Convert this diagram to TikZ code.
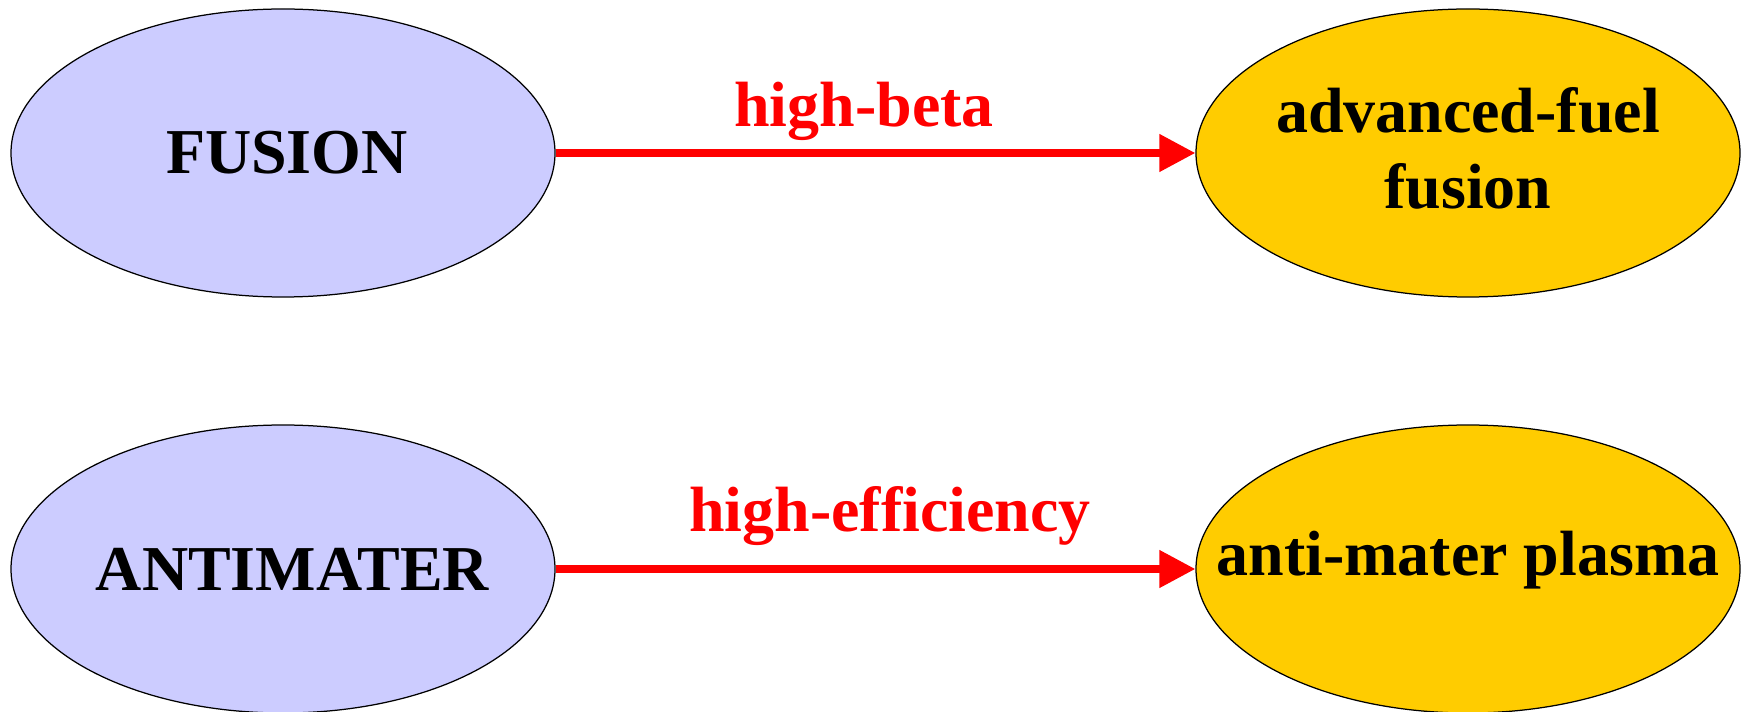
\documentclass[tikz,border=0pt]{standalone}
\usepackage{fontspec}
\setmainfont{Liberation Serif}
\usetikzlibrary{arrows.meta,shapes.geometric}
\definecolor{lavender}{HTML}{CCCCFF}
\definecolor{gold}{HTML}{FFCC00}
\tikzset{
  blob/.style={draw,ellipse,line width=0.025cm,minimum width=10.88cm,minimum height=5.76cm,inner sep=0pt},
  src/.style={blob,fill=lavender},
  dst/.style={blob,fill=gold},
  big/.style={font=\fontsize{36.4}{43.3}\selectfont\bfseries,align=center},
  tag/.style={big,text=red,anchor=base,inner sep=0pt},
  link/.style={draw=red,line width=0.15cm,-{Triangle[length=0.72cm,width=0.72cm]}}
}

\begin{document}
\begin{tikzpicture}
  \useasboundingbox (0,0) rectangle (34.84,-14.24);
  \node[src,label={[big,xshift=0.08cm]center:FUSION}] (fusion) at (5.66,-3.06) {};
  \node[dst,label={[big,yshift=0.1cm]center:{advanced-fuel\\fusion}}] (fuel) at (29.36,-3.06) {};
  \node[src,label={[big,xshift=0.19cm]center:ANTIMATER}] (anti) at (5.66,-11.38) {};
  \node[dst,label={[big,yshift=0.17cm]center:anti-mater plasma}] (plasma) at (29.36,-11.38) {};

  \draw[link] (fusion) -- (fuel);
  \draw[link] (anti) -- (plasma);

  \node[tag] (beta) at (17.28,-2.54) {high-beta};
  \node[tag] (eff) at (17.8,-10.64) {high-efficiency};
\end{tikzpicture}
\end{document}
